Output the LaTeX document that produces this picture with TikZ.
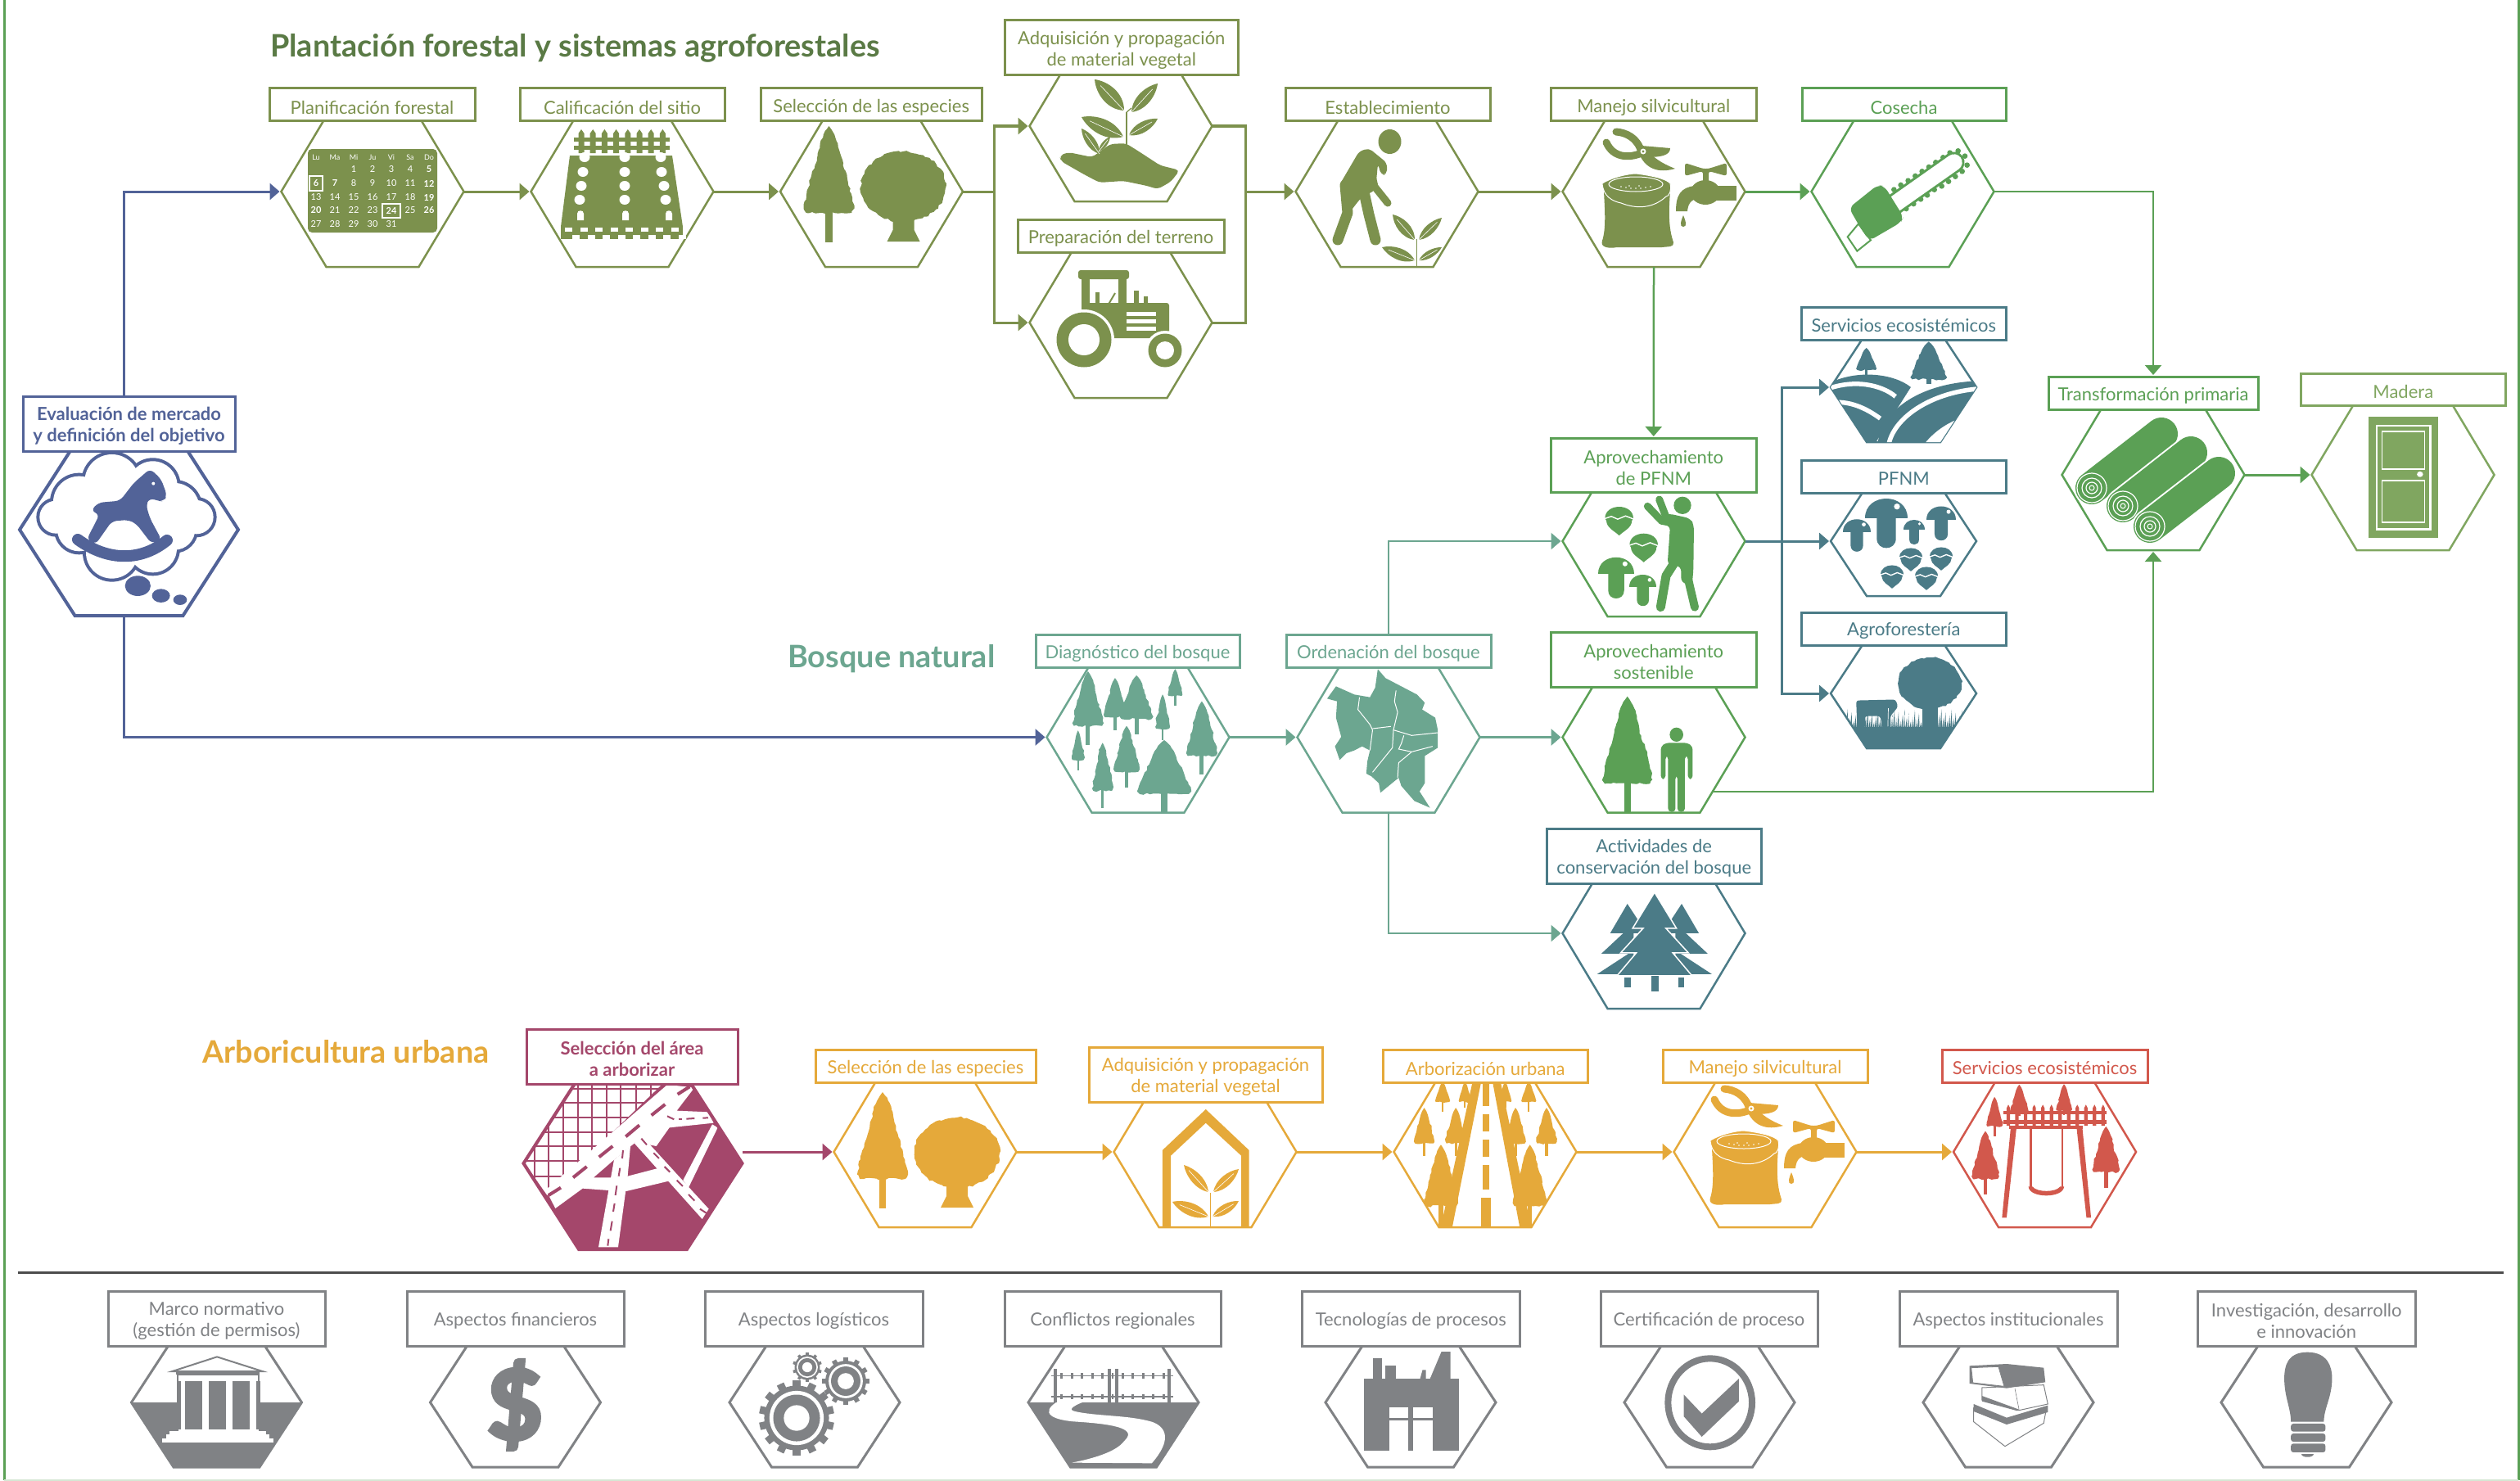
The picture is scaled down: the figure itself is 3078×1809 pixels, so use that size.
\documentclass[tikz,border=0pt]{standalone}
\usepackage{fontspec}
\setmainfont{Lato}
\newfontfamily\heavyf{Lato}[BoldFeatures={FakeBold=5}]
\usetikzlibrary{arrows.meta,calc,decorations.pathmorphing}
\definecolor{cOl}{HTML}{7C914D}
\definecolor{cGr}{HTML}{5BA055}
\definecolor{cMi}{HTML}{6CA690}
\definecolor{cBl}{HTML}{526398}
\definecolor{cPl}{HTML}{A4476B}
\definecolor{cOr}{HTML}{E5A93A}
\definecolor{cRe}{HTML}{D2584C}
\definecolor{cGy}{HTML}{808285}
\definecolor{cTe}{HTML}{4B7B87}
\definecolor{cMa}{HTML}{80A660}
\definecolor{cHd}{HTML}{5A7A45}
\tikzset{
 conn/.style={line width=3pt,-{Triangle[length=12pt,width=20pt]},shorten >=2pt},
 seg/.style={line width=3pt},
 labbox/.style={rectangle,fill=white,line width=3pt,inner sep=0pt,outer sep=0pt},
 labtext/.style={inner sep=0pt,align=center,font=\fontsize{22}{26}\selectfont},
 labtextb/.style={inner sep=0pt,align=center,font=\fontsize{22}{26}\selectfont\bfseries},
 hexanchor/.style={rectangle,inner sep=0pt,outer sep=0pt},
 rib/.style={white,line width=.6pt},
 jag/.style={decorate,decoration={random steps,segment length=4pt,amplitude=1.3pt}},
 calt/.style={text=white,inner sep=0pt,font=\fontsize{11}{11}\selectfont},
 calb/.style={text=white,inner sep=0pt,font=\fontsize{11}{11}\selectfont\bfseries},
 head/.style={inner sep=0pt,anchor=west,font=\fontsize{37.8}{37.8}\selectfont\bfseries}
}
\newcommand{\hexp}[5]{(#1-#4,#2) -- (#1-#5,#2-#3) -- (#1+#5,#2-#3) -- (#1+#4,#2) -- (#1+#5,#2+#3) -- (#1-#5,#2+#3) -- cycle}
% name cx cy hw hh b col lw
\newcommand{\hexa}[8]{\node[hexanchor,minimum width=#4pt*2,minimum height=#5pt*2] (#1) at (#2,#3) {};
 \draw[#7,line width=#8pt,line join=miter] \hexp{#2}{#3}{#5}{#4}{#6};}
\newcommand{\hs}[4]{\hexa{#1}{#2}{#3}{111.5}{92}{56.5}{#4}{2.5}}
\newcommand{\hm}[4]{\hexa{#1}{#2}{#3}{89}{67}{45}{#4}{2.5}}
\newcommand{\hb}[4]{\hexa{#1}{#2}{#3}{133.5}{105}{66}{#4}{4}}
\newcommand{\hg}[4]{\hexa{#1}{#2}{#3}{104}{79}{52.5}{#4}{3}}
\newcommand{\lab}[7]{\node[labbox,draw=#6,minimum width=#4pt-#2pt,minimum height=#5pt-#3pt] (#1) at ({(#2+#4)/2},{(#3+#5)/2}) {};
 \node[labtext,text=#6] (#1-t) at ({(#2+#4)/2},{(#3+#5)/2+3}) {#7};}
\newcommand{\labb}[7]{\node[labbox,draw=#6,minimum width=#4pt-#2pt,minimum height=#5pt-#3pt] (#1) at ({(#2+#4)/2},{(#3+#5)/2}) {};
 \node[labtextb,text=#6] (#1-t) at ({(#2+#4)/2},{(#3+#5)/2+3}) {#7};}
% conifer: x top crownbottom base halfwidth
\newcommand{\conif}[5]{\pgfmathsetmacro\cfh{#3-#2}\pgfmathsetmacro\cfb{(#4-#2)/(#3-#2)}%
 \begin{scope}[shift={(#1,#2)},xscale=#5,yscale=\cfh]
 \fill[jag] (0,0)--(.1,.04)--(.22,.1)--(.35,.2)--(.45,.32)--(.55,.45)--(.72,.6)--(.88,.78)--(1,.95)--(.9,1)--(-.9,1)--(-1,.95)--(-.88,.78)--(-.72,.6)--(-.55,.45)--(-.45,.32)--(-.35,.2)--(-.22,.1)--(-.1,.04)--cycle;
 \fill (-.13,.96) rectangle (.13,\cfb);
 \end{scope}}
\newcommand{\rtree}[7]{% cx cy rx ry trunk-half base trunk-base-half
 \fill[jag] (#1,#2) ellipse [x radius=#3,y radius=#4];
 \fill (#1-#5,#2+.7*#4) -- (#1+#5,#2+.7*#4) -- (#1+#5,#6-14) -- (#1+#7,#6) -- (#1-#7,#6) -- (#1-#5,#6-14) -- cycle;}
\newcommand{\leaf}[5]{% base x,y tip x,y width
 \fill (#1,#2) .. controls ($(#1,#2)!.3!(#3,#4)!#5pt!90:(#3,#4)$) and ($(#1,#2)!.75!(#3,#4)!#5pt*.7!90:(#3,#4)$) .. (#3,#4)
   .. controls ($(#1,#2)!.75!(#3,#4)!#5pt*.7!-90:(#3,#4)$) and ($(#1,#2)!.3!(#3,#4)!#5pt!-90:(#3,#4)$) .. (#1,#2) -- cycle;
 \draw[rib] (#1,#2) -- ($(#1,#2)!.8!(#3,#4)$);}
\newcommand{\especies}[3]{\begin{scope}[shift={(#1,#2)},color=#3]
 \conif{-52}{-80}{26}{62}{31}
 \rtree{39}{-6}{52}{43}{13}{61}{20}
 \end{scope}}
\newcommand{\manejo}[3]{\begin{scope}[shift={(#1,#2)},color=#3]
 \draw[line width=9pt,line cap=round] (-46,-73) .. controls (-34,-72) and (-20,-66) .. (-15,-48);
 \draw[line width=9pt,line cap=round] (-58,-60) .. controls (-50,-42) and (-32,-40) .. (-15,-47);
 \fill (-15,-56) -- (20,-53) .. controls (20,-44) and (8,-42) .. (-8,-42) -- cycle;
 \fill (-18,-46) .. controls (-10,-28) and (5,-22) .. (26,-28) .. controls (8,-35) and (0,-42) .. (-6,-48) -- cycle;
 \fill[white] (-13,-49) circle [radius=3.5];
 \fill (-13,-49) circle [radius=1.6];
 \fill (-61,0) -- (20,0) .. controls (18,25) and (18,45) .. (24,62) .. controls (25,68) and (18,67) .. (10,68) -- (-45,68) .. controls (-55,70) and (-66,68) .. (-63,60) .. controls (-58,45) and (-60,20) .. (-61,0) -- cycle;
 \path[fill=#3,draw=white,line width=1pt] (-63,-10) .. controls (-50,-18) and (-30,-22) .. (-22,-22) .. controls (-5,-20) and (15,-16) .. (20,-10) .. controls (22,0) and (18,6) .. (15,6) .. controls (0,20) and (-20,22) .. (-40,14) .. controls (-50,12) and (-62,6) .. (-63,-10) -- cycle;
 \draw[white,line width=1pt] (-22,-9) ellipse [x radius=33,y radius=9];
 \foreach \sx/\sy in {-40/-6,-34/-5,-28/-4,-22/-4,-16/-4,-10/-5,-4/-6,-30/-7,-18/-7}{\fill[white] (\sx,\sy) circle [radius=.9];}
 % faucet
 \fill[rounded corners=3pt] (38,-35) -- (60,-28) -- (67,-28) -- (89,-35) -- (89,-19) -- (67,-25) -- (67,-10) -- (60,-10) -- (60,-25) -- (38,-19) -- cycle;
 \fill (63,1) ellipse [x radius=18,y radius=15];
 \fill (62,-7) rectangle (101,11);
 \fill (27,24) .. controls (27,4) and (33,-5) .. (50,-7) -- (60,8) .. controls (48,8) and (42,12) .. (41,24) -- cycle;
 \fill (36,29) .. controls (33,36) and (31,43) .. (36,43) .. controls (41,43) and (39,36) .. (36,29) -- cycle;
 \end{scope}}
\newcommand{\mush}[3]{\begin{scope}[shift={(#1,#2)},scale=#3]
 \fill (-1,0) .. controls (-1,-1.25) and (1,-1.25) .. (1,0) -- cycle;
 \fill (-.45,-.1) -- (.45,-.1) -- (.45,.95) .. controls (.45,1.55) and (-.45,1.55) .. (-.45,.95) -- cycle;
 \fill[white] (.5,-.55) circle [radius=.14];
 \end{scope}}
\newcommand{\nut}[3]{\begin{scope}[shift={(#1,#2)},scale=#3]
 \fill (-1,0) .. controls (-1,-1.1) and (1,-1.1) .. (1,0) -- (.9,.15) .. controls (.9,.65) and (.3,.9) .. (0,1.2) .. controls (-.3,.9) and (-.9,.65) .. (-.9,.15) -- cycle;
 \draw[white,line width=1.4pt] (-1.05,.02) -- (-.55,-.15) -- (-.1,.05) -- (.45,-.18) -- (1.05,.05);
 \end{scope}}
\newcommand{\gear}[4]{\begin{scope}[shift={(#1,#2)},scale=#3]
 \fill (0,0) circle [radius=.86];
 \pgfmathsetmacro\gstep{360/#4}\pgfmathsetmacro\glast{360-\gstep}
 \foreach \a in {0,\gstep,...,\glast} {\fill[rotate=\a] (-.1,-1) rectangle (.1,-.8);}
 \fill[white] (0,0) circle [radius=.72];
 \fill (0,0) circle [radius=.62];
 \fill[white] (0,0) circle [radius=.34];
 \end{scope}}
\begin{document}
\begin{tikzpicture}[x=1pt,y=-1pt]
\useasboundingbox (0,0) rectangle (3078,1809);
\pgfmathsetseed{11}
% frame and separator
\coordinate (fa) at (5,0); \coordinate (fb) at (5,1808); \coordinate (fc) at (3076,1808); \coordinate (fd) at (3076,0);
\draw[cGr,line width=3pt] (fa) -- (fb);
\draw[cGr,line width=3pt] (fc) -- (fd);
\draw[cGr!25,line width=2pt] (fb) -- (fc);
\coordinate (sa) at (22,1554); \coordinate (sb) at (3058,1554);
\draw[black!70,line width=3pt] (sa) -- (sb);
% headings
\node[head,text=cHd] (h1) at (330,59) {Plantación forestal y sistemas agroforestales};
\node[head,text=cMi] (h2) at (962,805) {Bosque natural};
\node[head,text=cOr] (h3) at (247,1285) {Arboricultura urbana};
% hexagons
\hb{eva}{157.5}{647}{cBl}
\hs{pla}{455}{234}{cOl}
\hs{cal}{760}{234}{cOl}
\hs{sel}{1064.5}{234}{cOl}
\hs{adq}{1369}{154}{cOl}
\hs{pre}{1369}{394}{cOl}
\hs{est}{1694}{234}{cOl}
\hs{man}{2020}{234}{cOl}
\hs{cos}{2324}{234}{cGr}
\hs{tra}{2630}{580}{cGr}
\hs{mad}{2935}{580}{cMa}
\hm{eco}{2325}{473}{cTe}
\hm{pfn}{2325}{661}{cTe}
\hm{agr}{2325}{847}{cTe}
\hs{apr}{2020}{661}{cGr}
\hs{dia}{1390}{900.5}{cMi}
\hs{ord}{1696}{900.5}{cMi}
\hs{sos}{2020}{900.5}{cGr}
\hs{act}{2020}{1140}{cTe}
\hs{seu}{1130}{1407}{cOr}
\hs{adu}{1472}{1407}{cOr}
\hs{aru}{1814}{1407}{cOr}
\hs{mau}{2156}{1407}{cOr}
\hs{sru}{2497.5}{1407}{cRe}
\hg{g1}{264.5}{1713}{cGy}
\hg{g2}{629.5}{1713}{cGy}
\hg{g3}{995}{1713}{cGy}
\hg{g4}{1360}{1713}{cGy}
\hg{g5}{1723}{1713}{cGy}
\hg{g6}{2088}{1713}{cGy}
\hg{g7}{2453}{1713}{cGy}
\hg{g8}{2817}{1713}{cGy}
% === icon: rocking horse
\begin{scope}[shift={(0,460)},scale=.3333,color=cBl]
 \foreach \x/\y/\r in {410/385/100,560/400/90,290/460/95,640/480/90,205/515/60,720/515/62,290/560/80,410/645/95,560/630/88,640/560/75,450/510/150}{\fill (\x,\y) circle [radius=\r+12];}
 \foreach \x/\y/\r in {410/385/100,560/400/90,290/460/95,640/480/90,205/515/60,720/515/62,290/560/80,410/645/95,560/630/88,640/560/75,450/510/150}{\fill[white] (\x,\y) circle [radius=\r];}
 \fill (505,767) ellipse [x radius=47,y radius=37];
 \fill (590,803) ellipse [x radius=33,y radius=25];
 \fill (660,818) ellipse [x radius=25,y radius=19];
 \draw[line width=14pt,line cap=round] (285,597) .. controls (400,680) and (520,675) .. (612,600);
 \fill[rounded corners=6pt] (333,492) -- (360,462) -- (440,455) -- (490,390) -- (550,338) -- (590,375) -- (612,435) -- (600,458) -- (578,455) -- (548,445) -- (535,470) -- (550,520) -- (592,598) -- (555,612) -- (500,540) -- (470,525) -- (410,530) -- (350,615) -- (318,597) -- (365,505) -- cycle;
 \fill[white] (562,392) circle [radius=6];
\end{scope}
% === calendar
\fill[cOl,rounded corners=5pt] (376,182) rectangle (534,284);
\foreach \x/\t in {386/Lu,409/Ma,432/Mi,455/Ju,478/Vi,501/Sa,524/Do}{\node[calt,font=\fontsize{9}{9}\selectfont] (cal-\t) at (\x,192) {\t};}
\foreach \x/\y/\t in {432/207/1,455/207/2,478/207/3,501/207/4,432/224/8,455/224/9,478/224/10,501/224/11,386/241/13,409/241/14,432/241/15,455/241/16,478/241/17,501/241/18,409/257/21,432/257/22,455/257/23,501/257/25,386/274/27,409/274/28,432/274/29,455/274/30,478/274/31}{\node[calt] (cal-\t) at (\x,\y) {\t};}
\foreach \x/\y/\t in {524/207/5,386/224/6,409/224/7,524/224/12,524/241/19,386/257/20,478/257/24,524/257/26}{\node[calb] (cal-\t) at (\x,\y) {\t};}
\draw[white,line width=1.8pt] (378,215) rectangle (394,233);
\draw[white,line width=1.8pt] (467,249) rectangle (489,266);
% === site
\begin{scope}[color=cOl]
 \foreach \x in {0,...,7}{\fill (710+\x*14.2-3.5,163) -- (710+\x*14.2,158) -- (710+\x*14.2+3.5,163) -- (710+\x*14.2+3.5,187) -- (710+\x*14.2-3.5,187) -- cycle;}
 \fill (701,168) rectangle (818,173);
 \fill (701,178) rectangle (818,183);
 \fill (696,190) -- (821,190) -- (834,277) -- (685,277) -- cycle;
 \foreach \x/\y in {714/192,763/192,807/192,712/210,763/210,808/210,710/227,763/227,811/227,708/244,763/244,813/244}{\fill[white] (\x,\y) ellipse [x radius=6.5,y radius=6];}
 \foreach \x/\y in {705/263,760/263,813/263}{\fill[white] (\x,\y+6) -- (\x,\y-2) .. controls (\x,\y-7) and (\x+8,\y-7) .. (\x+8,\y-2) -- (\x+8,\y+6) -- cycle;}
 \fill (685,277) rectangle (834,292);
 \foreach \x in {0,...,7}{\fill[white] (690+\x*18.5,278) rectangle (699+\x*18.5,283);\fill[white] (699+\x*18.5,287) rectangle (708+\x*18.5,292);}
\end{scope}
\especies{1064.5}{234}{cOl}
% === hand and plant
\begin{scope}[color=cOl]
 \fill[rounded corners=5pt] (1294,190) -- (1305,186) -- (1334,192) -- (1356,176) -- (1375,175) -- (1391,185) -- (1417,202) -- (1441,208) -- (1430,222) -- (1414,231) -- (1401,227) -- (1372,221) -- (1343,223) -- (1324,213) -- (1296,197) -- cycle;
 \draw[line width=1.2pt] (1376,178) -- (1376,137);
 \draw[line width=1.2pt] (1376,137) -- (1382,132);
 \leaf{1373}{135}{1337}{97}{15}
 \leaf{1382}{137}{1414}{102}{12}
 \leaf{1372}{167}{1321}{143}{15}
 \leaf{1379}{165}{1414}{145}{10}
 \leaf{1343}{188}{1321}{157}{9}
 \leaf{1342}{185}{1356}{167}{5}
\end{scope}
% === tractor
\begin{scope}[color=cOl]
 \fill[rounded corners=3pt] (1317,330) rectangle (1379,341);
 \fill (1321,340) rectangle (1331,385);
 \fill (1366,340) rectangle (1376,375);
 \fill (1321,372) rectangle (1366,385);
 \fill[rounded corners=3pt] (1321,370) -- (1428,370) -- (1428,413) -- (1321,413) -- cycle;
 \fill (1338,357) rectangle (1343,372);
 \fill (1385,355) rectangle (1391,372);
 \fill (1397,362) rectangle (1402,372);
 \draw[line width=2pt] (1352,375) -- (1362,358);
 \foreach \y in {381,390,399}{\fill[white] (1376,\y) rectangle (1412,\y+4.5);}
 \fill[white] (1324,415) circle [radius=37];
 \fill[white] (1423,428) circle [radius=24];
 \fill (1324,415) circle [radius=33.5];
 \fill[white] (1324,415) circle [radius=19];
 \fill (1423,428) circle [radius=20.5];
 \fill[white] (1423,428) circle [radius=11];
\end{scope}
% === worker
\begin{scope}[color=cOl]
 \fill (1697.5,173) ellipse [x radius=14,y radius=15];
 \fill[rounded corners=5pt] (1672,181) -- (1694,199) -- (1694,213) -- (1687,214) -- (1683,200) -- (1680,232) -- (1662,242) -- (1648,260) -- (1636,226) -- (1660,185) -- cycle;
 \draw[line width=13pt,line cap=round,line join=round] (1643,226) -- (1646,260) -- (1634,293);
 \draw[line width=13pt,line cap=round,line join=round] (1665,230) -- (1672,262) -- (1680,293);
 \draw[line width=9pt,line cap=round,line join=round] (1676,215) -- (1679,228) -- (1695,248);
 \draw[line width=1pt] (1730,326) -- (1730,292);
 \leaf{1728}{293}{1701}{262}{11}
 \leaf{1733}{293}{1761}{266}{9}
 \leaf{1728}{318}{1688}{302}{11}
 \leaf{1733}{318}{1761}{302}{7}
\end{scope}
\manejo{2020}{234}{cOl}
% === chainsaw
\begin{scope}[shift={(2210,150)},scale=.3333,color=cGr]
 \foreach \x/\y in {310/245,335/228,362/212,388/195,413/178,438/162,463/145,490/127,515/110,545/103,570/122,578/155,560/178,535/197,510/215,485/232,458/245,432/265,408/280,382/297,355/315}{\fill (\x,\y) circle [radius=10];}
 \draw[line width=26pt,line cap=round] (310,300) -- (530,145);
 \draw[white,line width=20pt,line cap=round] (310,300) -- (530,145);
 \draw[line width=2pt,fill=white] (180,370) -- (140,418) -- (175,470) -- (225,430) -- cycle;
 \fill[rounded corners=7pt] (145,312) -- (250,228) -- (275,232) -- (345,345) -- (335,365) -- (220,432) -- (190,390) -- cycle;
\end{scope}
% === ecosystem services
\begin{scope}
 \clip \hexp{2325}{473}{67}{89}{45};
 \begin{scope}[shift={(2100,360)},xscale=.6238,yscale=.3827,color=cTe]
  \conif{288}{170}{240}{256}{20}
  \conif{410}{150}{270}{286}{36}
  \fill (218,280) .. controls (270,240) and (340,250) .. (375,295) -- (305,475) -- (280,475) -- (210,300) -- cycle;
  \draw[white,line width=5.5pt] (205,305) .. controls (265,265) and (320,290) .. (345,325);
  \draw[white,line width=5.5pt] (215,345) .. controls (255,335) and (290,365) .. (315,395);
  \fill (310,475) .. controls (320,360) and (400,280) .. (510,275) -- (510,320) -- (440,475) -- cycle;
  \draw[white,line width=5.5pt] (332,475) .. controls (345,385) and (420,310) .. (510,300);
  \fill[white] (402,475) -- (440,475) -- (470,395) .. controls (440,415) and (420,440) .. (402,475) -- cycle;
 \end{scope}
\end{scope}
% === mushrooms teal
\begin{scope}[color=cTe]
 \mush{2304}{633}{26}
 \mush{2268}{650}{17}
 \mush{2338}{647}{13}
 \mush{2371}{635}{18}
 \nut{2334}{681}{14}
 \nut{2371}{680}{14}
 \nut{2311}{702}{14}
 \nut{2353}{704}{14}
\end{scope}
% === cow and tree
\begin{scope}
 \clip \hexp{2325}{847}{67}{89}{45};
 \begin{scope}[shift={(2100,360)},xscale=.6238,yscale=.3827,color=cTe]
  \fill[jag] (412,1240) ellipse [x radius=62,y radius=82];
  \fill (398,1300) rectangle (428,1390);
  \fill[rounded corners=3pt] (268,1295) -- (345,1292) -- (350,1315) -- (335,1345) -- (335,1385) -- (320,1385) -- (315,1345) -- (285,1345) -- (285,1385) -- (270,1385) -- cycle;
  \foreach \x in {250,254,...,480}{\pgfmathsetmacro\gy{1320+mod(\x*7,46)}\fill (\x-2,1385) -- (\x+1,\gy) -- (\x+2,1385) -- cycle;}
  \fill (230,1380) rectangle (490,1460);
  \foreach \x in {330,338,...,392}{\pgfmathsetmacro\gy{1320+mod(\x*11,30)}\draw[white,line width=.7pt] (\x,1378) -- (\x+1,\gy);}
 \end{scope}
\end{scope}
% === logs
\begin{scope}[color=cGr]
 \foreach \ax/\ay/\bx/\by in {2555/596/2640/530,2593/618/2676/553,2626/643/2710/578}{
  \draw[white,line width=44pt,line cap=round] (\ax,\ay) -- (\bx,\by);
  \draw[line width=40pt,line cap=round] (\ax,\ay) -- (\bx,\by);
  \draw[white,line width=1.2pt] (\ax,\ay) circle [radius=18];
  \draw[white,line width=1.2pt] (\ax,\ay) circle [radius=12];
  \draw[white,line width=1.2pt] (\ax,\ay) circle [radius=7];
  \draw[white,line width=1pt] (\ax,\ay) circle [radius=3];}
\end{scope}
% === door
\begin{scope}[shift={(2100,360)},xscale=.6238,yscale=.3827]
 \fill[cMa] (1271,390) rectangle (1408,775);
 \draw[white,line width=2.5pt] (1287,418) rectangle (1392,748);
 \draw[white,line width=1.5pt] (1298,437) rectangle (1381,556);
 \draw[white,line width=1.5pt] (1298,593) rectangle (1381,727);
 \fill[white] (1372,573) ellipse [x radius=6,y radius=9];
\end{scope}
% === zoom coords for middle row
\begin{scope}[shift={(1230,760)},xscale=.6378,yscale=.3333,color=cMi]
 \conif{155}{180}{380}{450}{30}
 \conif{207}{205}{348}{395}{22}
 \conif{248}{195}{355}{410}{32}
 \conif{322}{172}{270}{305}{14}
 \conif{298}{265}{390}{432}{14}
 \conif{373}{290}{490}{558}{30}
 \conif{136}{397}{505}{542}{12}
 \conif{229}{380}{548}{605}{25}
 \conif{183}{442}{618}{680}{20}
 \conif{301}{432}{630}{697}{52}
 % map
 \fill (710,172) -- (725,205) -- (755,235) -- (785,265) -- (800,295) -- (795,320) -- (820,350) -- (825,395) -- (825,460) -- (800,490) -- (800,590) -- (790,620) -- (810,680) -- (780,655) -- (755,600) -- (750,570) -- (715,625) -- (712,590) -- (698,565) -- (688,555) -- (690,510) -- (695,470) -- (680,455) -- (665,470) -- (650,480) -- (637,505) -- (628,455) -- (640,420) -- (630,350) -- (632,290) -- (613,280) -- (630,235) -- (665,265) -- (695,275) -- (705,240) -- cycle;
 \draw[white,line width=1pt] (675,275) -- (672,320) -- (695,375) -- (700,395) -- (695,470);
 \draw[white,line width=1pt] (745,250) -- (742,290) -- (748,330) -- (740,395) -- (738,460) -- (700,550);
 \draw[white,line width=1pt] (700,390) -- (735,382);
 \draw[white,line width=1pt] (740,395) -- (775,415) -- (825,405);
 \draw[white,line width=1pt] (760,415) -- (755,445) -- (750,465) -- (775,475) -- (815,455);
 \draw[white,line width=1pt] (775,475) -- (750,515) -- (748,570);
\end{scope}
\begin{scope}[shift={(1230,760)},xscale=.6378,yscale=.3333,color=cGr]
 \conif{1188}{272}{592}{695}{48}
 \fill (1282,412) ellipse [x radius=13,y radius=26];
 \fill[rounded corners=4pt] (1262,442) -- (1303,442) -- (1313,455) -- (1313,575) -- (1304,575) -- (1304,490) -- (1298,490) -- (1298,695) -- (1284,695) -- (1284,562) -- (1280,562) -- (1280,695) -- (1266,695) -- (1266,490) -- (1261,490) -- (1261,575) -- (1252,575) -- (1252,455) -- cycle;
\end{scope}
\begin{scope}[shift={(1230,760)},xscale=.6378,yscale=.3333,color=cTe]
 \fill (1188,1032) -- (1225,1140) -- (1200,1140) -- (1200,1290) -- (1130,1290) -- (1190,1215) -- (1138,1215) -- (1180,1140) -- (1155,1140) -- cycle;
 \fill (1292,1032) -- (1255,1140) -- (1280,1140) -- (1280,1290) -- (1350,1290) -- (1290,1215) -- (1342,1215) -- (1300,1140) -- (1325,1140) -- cycle;
 \path[fill=cTe,draw=white,line width=1.5pt] (1240,990) -- (1282,1122) -- (1262,1122) -- (1305,1212) -- (1275,1212) -- (1312,1296) -- (1168,1296) -- (1205,1212) -- (1175,1212) -- (1218,1122) -- (1198,1122) -- cycle;
 \fill (1182,1302) rectangle (1194,1337);
 \fill (1234,1296) rectangle (1248,1352);
 \fill (1285,1302) rectangle (1297,1337);
\end{scope}
% === harvesting person
\begin{scope}[shift={(1905,590)},scale=.3333,color=cGr]
 \fill (450,82) circle [radius=32];
 \draw[line width=9pt,line cap=round] (365,60) -- (392,130);
 \draw[line width=9pt,line cap=round] (322,85) -- (375,140);
 \fill[rounded corners=6pt] (372,120) -- (400,112) -- (480,130) -- (492,155) -- (490,320) -- (485,375) -- (445,365) -- (445,305) -- (395,300) -- (405,155) -- (368,155) -- cycle;
 \draw[line width=11pt,line cap=round,line join=round] (425,285) -- (390,340) -- (370,455);
 \draw[line width=10pt,line cap=round,line join=round] (468,340) -- (495,455);
 \nut{218}{130}{52}
 \nut{308}{228}{52}
 \mush{207}{332}{65}
 \mush{305}{382}{49}
\end{scope}
% === urban area roads
\begin{scope}
 \fill[cPl] \hexp{773}{1421}{105}{133.5}{66};
 \clip \hexp{773}{1421}{105}{133.5}{66};
 \begin{scope}[shift={(635,1320)},scale=.3333]
  \fill[white] (15,300) -- (205,-10) -- (545,-10) -- (100,420) -- cycle;
  \foreach \x in {55,105,158,212,265,318,370,425,480}{\draw[cPl,line width=2pt] (\x,-5) -- (\x,420);}
  \foreach \y in {30,82,135,188,240,295,350}{\draw[cPl,line width=2pt] (0,\y) -- (560,\y);}
  \fill[white] (95,400) -- (540,15) -- (640,25) -- (575,110) -- (690,115) -- (710,155) -- (548,172) -- (500,240) -- (425,225) -- (345,290) -- (270,355) -- (335,355) -- (395,350) -- (510,320) -- (545,368) -- (390,405) -- (325,402) -- (230,395) -- (130,468) -- cycle;
  \fill[white] (405,240) -- (395,350) -- (360,610) -- (288,610) -- (325,402) -- (345,290) -- cycle;
  \fill[white] (445,200) -- (692,470) -- (668,507) -- (420,230) -- cycle;
  \fill[white] (705,160) -- (725,172) -- (618,392) -- (598,365) -- cycle;
  \foreach \ax/\ay/\bx/\by in {105/420/150/392,195/355/245/315,290/280/340/240,388/205/438/163,482/127/532/87,578/50/622/22}{\draw[cPl,line width=4pt] (\ax,\ay) -- (\bx,\by);}
  \foreach \ax/\ay/\bx/\by in {378/255/375/285,367/320/362/350,355/385/350/420,347/450/342/480,338/515/332/550,325/580/322/605}{\draw[cPl,line width=2pt] (\ax,\ay) -- (\bx,\by);}
  \foreach \ax/\ay/\bx/\by in {445/212/465/235,490/265/510/285,530/315/550/335,575/365/597/387,618/417/640/440,660/470/683/485}{\draw[cPl,line width=2pt] (\ax,\ay) -- (\bx,\by);}
  \foreach \ax/\ay/\bx/\by in {540/130/565/142,582/142/594/142,610/140/640/138,670/137/690/136}{\draw[cPl,line width=2pt] (\ax,\ay) -- (\bx,\by);}
 \end{scope}
\end{scope}
\draw[cPl,line width=4pt] \hexp{773}{1421}{105}{133.5}{66};
\especies{1130}{1414}{cOr}
% === greenhouse
\begin{scope}[shift={(620,1240)},xscale=.6378,yscale=.3333,color=cOr]
 \fill (1337,345) -- (1420,495) -- (1420,775) -- (1405,775) -- (1405,515) -- (1337,395) -- (1270,515) -- (1270,775) -- (1254,775) -- (1254,495) -- cycle;
\end{scope}
\begin{scope}[color=cOr]
 \draw[line width=1pt] (1478,1498) -- (1478,1457);
 \leaf{1476}{1456}{1446}{1423}{10}
 \leaf{1482}{1456}{1513}{1428}{10}
 \leaf{1476}{1486}{1432}{1468}{12}
 \leaf{1481}{1486}{1513}{1467}{9}
\end{scope}
% === urban road
\begin{scope}
 \clip \hexp{1814}{1407}{92}{111.5}{56.5};
 \begin{scope}[shift={(1600,1240)},xscale=.7015,yscale=.3333,color=cOr]
  \conif{231}{245}{318}{355}{13}
  \conif{270}{245}{318}{340}{11}
  \conif{340}{245}{318}{340}{11}
  \conif{381}{245}{318}{355}{13}
  \conif{199}{340}{470}{517}{18}
  \conif{254}{340}{470}{517}{18}
  \conif{358}{340}{470}{517}{18}
  \conif{412}{340}{470}{517}{18}
  \conif{228}{475}{700}{775}{30}
  \conif{383}{475}{700}{775}{30}
  \fill (283,245) -- (298,245) -- (248,775) -- (228,775) -- cycle;
  \fill (318,245) -- (332,245) -- (385,775) -- (365,775) -- cycle;
  \foreach \ya/\yb in {250/333,362/425,455/518,548/638}{\fill (301,\ya) rectangle (312,\yb);}
  \fill (298,668) rectangle (315,775);
 \end{scope}
\end{scope}
\manejo{2152}{1403}{cOr}
% === swing
\begin{scope}[shift={(1600,1240)},xscale=.7015,yscale=.3333,color=cRe]
 \conif{1235}{255}{355}{370}{16}
 \conif{1313}{253}{350}{365}{14}
 \conif{1192}{300}{408}{445}{14}
 \conif{1176}{425}{600}{658}{24}
 \conif{1386}{408}{575}{632}{24}
 \foreach \x in {0,...,11}{\fill (1216+\x*15-3,340) -- (1216+\x*15,328) -- (1216+\x*15+3,340) -- (1216+\x*15+3,405) -- (1216+\x*15-3,405) -- cycle;}
 \fill (1208,350) rectangle (1387,362);
 \fill (1208,383) rectangle (1387,400);
 \fill (1218,405) rectangle (1345,418);
 \fill (1220,415) -- (1230,415) -- (1213,742) -- (1205,742) -- cycle;
 \fill (1335,415) -- (1345,415) -- (1360,742) -- (1352,742) -- cycle;
 \fill (1253,418) rectangle (1257,630);
 \fill (1308,418) rectangle (1312,630);
 \fill (1251,628) -- (1258,628) .. controls (1265,650) and (1300,650) .. (1306,628) -- (1313,628) .. controls (1312,672) and (1252,672) .. (1251,628) -- cycle;
\end{scope}
% === bottom row zoom 8 coords
\begin{scope}
 \clip \hexp{264.5}{1713}{79}{104}{52.5};
 \fill[cGy] (150,1713) rectangle (380,1800);
\end{scope}
\begin{scope}[shift={(0,1540)},xscale=.957,yscale=.3333,color=cGy]
 \draw[line width=2pt] (277,352) -- (335,405) -- (220,405) -- cycle;
 \fill (225,408) rectangle (331,418);
 \draw[line width=1.5pt] (227,418) rectangle (330,442);
 \fill[white] (228,442) rectangle (330,625);
 \foreach \x in {236,266,297}{\fill (\x,442) rectangle (\x+22,618);}
 \fill (226,442) -- (231,442) -- (231,618) -- (226,618) -- cycle;
 \fill (327,442) -- (332,442) -- (332,618) -- (327,618) -- cycle;
 \fill[white] (216,625) rectangle (340,635);
 \fill[white] (212,635) rectangle (344,650);
 \fill[white] (207,650) rectangle (349,666);
\end{scope}
\node[text=cGy,inner sep=0pt,font=\fontsize{116}{116}\heavyf\bfseries] (dollar) at (629,1716) {\$};
\begin{scope}[color=cGy]
 \gear{973}{1732}{46}{14}
 \gear{1033}{1687}{29}{12}
 \gear{986}{1670}{18}{10}
\end{scope}
\begin{scope}
 \clip \hexp{1360}{1713}{79}{104}{52.5};
 \fill[cGy] (1240,1713) rectangle (1480,1800);
 \begin{scope}[shift={(0,1540)},xscale=.957,yscale=.3333]
  \fill[white] (1350,515) .. controls (1325,560) and (1345,585) .. (1375,590) .. controls (1430,600) and (1450,620) .. (1435,660) .. controls (1425,700) and (1395,725) .. (1368,740) -- (1470,742) .. controls (1495,660) and (1490,610) .. (1470,590) .. controls (1440,565) and (1400,570) .. (1372,552) .. controls (1360,545) and (1375,525) .. (1385,515) -- cycle;
 \end{scope}
\end{scope}
\begin{scope}[shift={(0,1540)},xscale=.957,yscale=.3333,color=cGy]
 \foreach \x in {1347,1416,1425,1492}{\fill (\x-2,395) rectangle (\x+2,520);}
 \fill (1342,419) rectangle (1497,424);
 \fill (1342,494) rectangle (1497,500);
 \foreach \x in {1355,1368,...,1490}{\fill (\x-1.5,412) rectangle (\x+1.5,431);\fill (\x-1.5,488) rectangle (\x+1.5,506);}
\end{scope}
\begin{scope}[shift={(1500,1540)},xscale=1.0063,yscale=.3333,color=cGy]
 % factory
 \fill (165,433) rectangle (280,695);
 \fill (176,357) rectangle (187,433);
 \fill (191,383) rectangle (204,433);
 \fill (233,433) -- (236,400) -- (240,400) -- (240,433) -- cycle;
 \fill (245,433) -- (259,333) -- (270,333) -- (270,433) -- cycle;
 \fill[white] (196,538) rectangle (248,695);
 \fill (219,538) rectangle (225,695);
 \fill (196,575) rectangle (248,584);
 % check
 \draw[line width=8pt] (585,520) ellipse [x radius=51,y radius=162];
 \fill (553,490) -- (575,560) -- (620,432) -- (620,515) -- (575,645) -- (553,570) -- cycle;
 % books
 \path[fill=white,draw=cGy,line width=1pt] (905,540) -- (945,595) -- (993,545) -- (990,595) -- (943,680) -- (905,590) -- cycle;
 \fill (905,525) -- (945,575) -- (995,530) -- (995,555) -- (945,600) -- (905,552) -- cycle;
 \path[fill=white,draw=cGy,line width=1pt] (915,465) -- (990,455) -- (995,525) -- (960,548) -- (915,510) -- cycle;
 \fill (915,495) -- (960,545) -- (958,550) -- (915,515) -- cycle;
 \draw[line width=.6pt] (955,468) -- (960,545);
 \fill (900,385) -- (945,378) -- (990,392) -- (992,445) -- (945,467) -- (900,450) -- cycle;
 \path[fill=white,draw=cGy,line width=.8pt] (902,392) -- (935,388) -- (942,460) -- (904,447) -- cycle;
 % bulb
 \fill (1310,335) .. controls (1335,335) and (1340,390) .. (1340,430) .. controls (1340,500) and (1330,540) .. (1330,590) -- (1290,590) .. controls (1290,540) and (1282,500) .. (1282,430) .. controls (1282,390) and (1285,335) .. (1310,335) -- cycle;
 \fill[rounded corners=3pt] (1290,597) rectangle (1332,626);
 \fill[rounded corners=3pt] (1290,633) rectangle (1332,663);
 \fill[rounded corners=3pt] (1290,670) rectangle (1332,702);
 \fill (1303,708) -- (1318,708) .. controls (1318,722) and (1303,722) .. (1303,708) -- cycle;
\end{scope}
% labels
\labb{evl}{28}{484}{287}{551}{cBl}{Evaluación de mercado\\y definición del objetivo}
\lab{pll}{329}{108}{580}{148}{cOl}{Planificación forestal}
\lab{cll}{635}{108}{885}{148}{cOl}{Calificación del sitio}
\lab{sll}{929}{108}{1199.5}{148}{cOl}{Selección de las especies}
\lab{adl}{1227}{25}{1512.5}{92}{cOl}{Adquisición y propagación\\de material vegetal}
\lab{prl}{1243}{268}{1495}{308}{cOl}{Preparación del terreno}
\lab{esl}{1570}{108}{1820}{148}{cOl}{Establecimiento}
\lab{mal}{1894.5}{108}{2145}{148}{cOl}{Manejo silvicultural}
\lab{col}{2201}{108}{2450}{148}{cGr}{Cosecha}
\lab{trl}{2502}{460}{2758}{500}{cGr}{Transformación primaria}
\lab{mdl}{2810}{456}{3060.5}{495}{cMa}{Madera}
\lab{ecl}{2200}{375}{2450.5}{415}{cTe}{Servicios ecosistémicos}
\lab{pfl}{2200}{562}{2450.5}{602}{cTe}{PFNM}
\lab{agl}{2200}{748}{2450.5}{788}{cTe}{Agroforestería}
\lab{apl}{1894.5}{535}{2145}{601}{cGr}{Aprovechamiento\\de PFNM}
\lab{dil}{1265}{775}{1514}{815}{cMi}{Diagnóstico del bosque}
\lab{orl}{1571}{775}{1821}{815}{cMi}{Ordenación del bosque}
\lab{sol}{1894.5}{772}{2145}{839}{cGr}{Aprovechamiento\\sostenible}
\lab{acl}{1889}{1012}{2151.5}{1079}{cTe}{Actividades de\\conservación del bosque}
\labb{sal}{643}{1257}{901}{1324}{cPl}{Selección del área\\a arborizar}
\lab{sel2}{996}{1282}{1265}{1322}{cOr}{Selección de las especies}
\lab{adl2}{1330}{1279}{1615}{1346}{cOr}{Adquisición y propagación\\de material vegetal}
\lab{arl}{1689}{1282}{1939.5}{1322}{cOr}{Arborización urbana}
\lab{mal2}{2031}{1282}{2281}{1322}{cOr}{Manejo silvicultural}
\lab{srl}{2372}{1282}{2623}{1322}{cRe}{Servicios ecosistémicos}
\lab{gl1}{132}{1577}{397}{1644}{cGy}{Marco normativo\\(gestión de permisos)}
\lab{gl2}{497}{1577}{762}{1644}{cGy}{Aspectos financieros}
\lab{gl3}{861}{1577}{1127}{1644}{cGy}{Aspectos logísticos}
\lab{gl4}{1227}{1577}{1491}{1644}{cGy}{Conflictos regionales}
\lab{gl5}{1590.5}{1577}{1856}{1644}{cGy}{Tecnologías de procesos}
\lab{gl6}{1955}{1577}{2220}{1644}{cGy}{Certificación de proceso}
\lab{gl7}{2320}{1577}{2586}{1644}{cGy}{Aspectos institucionales}
\lab{gl8}{2684.5}{1577}{2950}{1644}{cGy}{Investigación, desarrollo\\e innovación}
% connectors
\coordinate (evu) at (151,484);
\coordinate (evd) at (151,752);
\draw[conn,cBl] (evu) |- (pla.west);
\draw[conn,cBl] (evd) |- (dia.west);
\draw[conn,cOl] (pla.east) -- (cal.west);
\draw[conn,cOl] (cal.east) -- (sel.west);
\coordinate (bl) at (1214,234);
\draw[seg,cOl] (sel.east) -- (bl);
\draw[conn,cOl] (bl) |- (adq.west);
\draw[conn,cOl] (bl) |- (pre.west);
\coordinate (br) at (1521,234);
\draw[seg,cOl] (adq.east) -| (br);
\draw[seg,cOl] (pre.east) -| (br);
\draw[conn,cOl] (br) -- (est.west);
\draw[conn,cOl] (est.east) -- (man.west);
\draw[conn,cGr] (man.east) -- (cos.west);
\draw[conn,cGr,line width=2.5pt] (man.south) -- (apl.north);
\draw[conn,cGr,line width=2.5pt] (cos.east) -| (trl.north);
\draw[conn,cGr] (tra.east) -- (mad.west);
\coordinate (sr) at (2091,967);
\draw[conn,cGr,line width=2.5pt] (sr) -| (tra.south);
\draw[conn,cMi] (dia.east) -- (ord.west);
\draw[conn,cMi] (ord.east) -- (sos.west);
\draw[conn,cMi,line width=2.5pt] (orl.north) |- (apr.west);
\draw[conn,cMi,line width=2.5pt] (ord.south) |- (act.west);
\draw[conn,cTe] (apr.east) -- (pfn.west);
\coordinate (tj) at (2176,661);
\draw[conn,cTe] (tj) |- (eco.west);
\draw[conn,cTe] (tj) |- (agr.west);
\coordinate (sa2) at (907,1407);
\draw[conn,cPl] (sa2) -- (seu.west);
\draw[conn,cOr] (seu.east) -- (adu.west);
\draw[conn,cOr] (adu.east) -- (aru.west);
\draw[conn,cOr] (aru.east) -- (mau.west);
\draw[conn,cOr] (mau.east) -- (sru.west);
\end{tikzpicture}
\end{document}
